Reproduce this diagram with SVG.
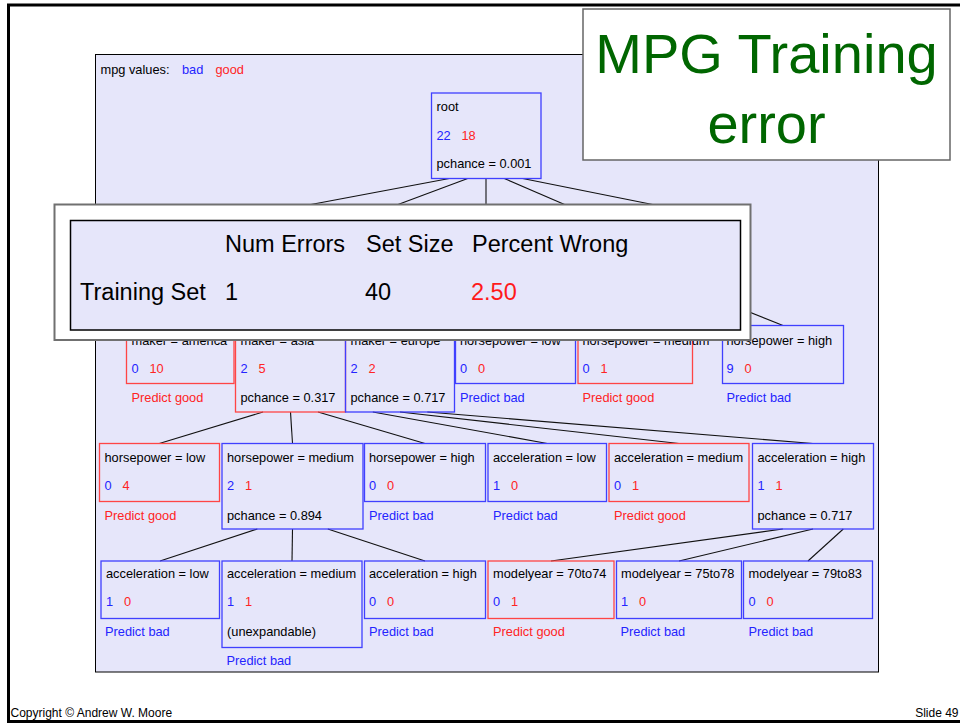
<svg xmlns="http://www.w3.org/2000/svg" width="960" height="723" viewBox="0 0 960 723">
<style>
text{font-family:"Liberation Sans",Arial,sans-serif;}
.t{font-size:12.8px;fill:#000;}
.b{font-size:12.8px;fill:#2424ff;}
.r{font-size:12.8px;fill:#ff2424;}
.nb{fill:none;stroke:#4040ff;stroke-width:1.3;}
.nr{fill:none;stroke:#ff4545;stroke-width:1.3;}
.c line{stroke:#111;stroke-width:1.1;}
.tb{font-size:23.5px;fill:#000;}
.ft{font-size:12px;fill:#000;}
</style>
<rect x="0" y="0" width="960" height="723" fill="#fff"/>
<path d="M962 5 H8.5 V721.5 H962" fill="none" stroke="#000" stroke-width="3"/>
<rect id="panel" x="95.5" y="54.5" width="783" height="617.5" fill="#e6e6fa" stroke="#000" stroke-width="1"/>
<g id="legend">
<text class="t" x="100.5" y="74">mpg values:</text>
<text class="b" x="182" y="74">bad</text>
<text class="r" x="215.5" y="74">good</text>
</g>
<g class="c" id="connectors">
<line x1="449.3" y1="178.5" x2="287" y2="209"/>
<line x1="467.7" y1="178.5" x2="386" y2="209"/>
<line x1="486" y1="178.5" x2="486" y2="209"/>
<line x1="504.3" y1="178.5" x2="575" y2="209"/>
<line x1="522.7" y1="178.5" x2="675" y2="209"/>
<line x1="704" y1="294" x2="783" y2="325.5"/>
<line x1="263" y1="412" x2="159.3" y2="443.5"/>
<line x1="290.5" y1="412" x2="292.5" y2="443.5"/>
<line x1="318" y1="412" x2="425" y2="443.5"/>
<line x1="372.8" y1="412" x2="547.3" y2="443.5"/>
<line x1="400" y1="412" x2="679" y2="443.5"/>
<line x1="427.3" y1="412" x2="813" y2="443.5"/>
<line x1="257.3" y1="529" x2="160" y2="561"/>
<line x1="292.5" y1="529" x2="292" y2="561"/>
<line x1="327.8" y1="529" x2="425" y2="561"/>
<line x1="782.8" y1="529" x2="551" y2="561"/>
<line x1="813" y1="529" x2="679" y2="561"/>
<line x1="843.3" y1="529" x2="808" y2="561"/>
</g>
<g id="root">
<rect class="nb" x="431.5" y="93" width="109.5" height="85.5"/>
<text class="t" x="436.5" y="110.5">root</text>
<text class="b" x="436.5" y="139.5">22</text><text class="r" x="461.5" y="139.5">18</text>
<text class="t" x="436.5" y="168">pchance = 0.001</text>
</g>
<g id="maker-america">
<rect class="nr" x="126.5" y="325.5" width="107.5" height="58"/>
<text class="t" x="131.5" y="344.5">maker = america</text>
<text class="b" x="131.5" y="373">0</text><text class="r" x="149.5" y="373">10</text>
<text class="r" x="131.5" y="401.5">Predict good</text>
</g>
<g id="maker-asia">
<rect class="nr" x="235.5" y="325.5" width="110" height="86.5"/>
<text class="t" x="240.5" y="344.5">maker = asia</text>
<text class="b" x="240.5" y="373">2</text><text class="r" x="258.5" y="373">5</text>
<text class="t" x="240.5" y="401.5">pchance = 0.317</text>
</g>
<g id="maker-europe">
<rect class="nb" x="345.5" y="325.5" width="109" height="86.5"/>
<text class="t" x="350.5" y="344.5">maker = europe</text>
<text class="b" x="350.5" y="373">2</text><text class="r" x="368.5" y="373">2</text>
<text class="t" x="350.5" y="401.5">pchance = 0.717</text>
</g>
<g id="hp-low-1">
<rect class="nb" x="455.5" y="325.5" width="120" height="58"/>
<text class="t" x="460" y="344.5">horsepower = low</text>
<text class="b" x="460" y="373">0</text><text class="r" x="478" y="373">0</text>
<text class="b" x="460" y="401.5">Predict bad</text>
</g>
<g id="hp-medium-1">
<rect class="nr" x="578" y="325.5" width="114.5" height="58"/>
<text class="t" x="582.5" y="344.5">horsepower = medium</text>
<text class="b" x="582.5" y="373">0</text><text class="r" x="600.5" y="373">1</text>
<text class="r" x="582.5" y="401.5">Predict good</text>
</g>
<g id="hp-high-1">
<rect class="nb" x="722.5" y="325.5" width="121" height="58"/>
<text class="t" x="726.5" y="344.5">horsepower = high</text>
<text class="b" x="726.5" y="373">9</text><text class="r" x="744.5" y="373">0</text>
<text class="b" x="726.5" y="401.5">Predict bad</text>
</g>
<g id="hp-low-2">
<rect class="nr" x="99.5" y="443.5" width="120" height="58"/>
<text class="t" x="104.5" y="462">horsepower = low</text>
<text class="b" x="104.5" y="490">0</text><text class="r" x="122.5" y="490">4</text>
<text class="r" x="104.5" y="519.5">Predict good</text>
</g>
<g id="hp-medium-2">
<rect class="nb" x="222" y="443.5" width="141" height="85.5"/>
<text class="t" x="227" y="462">horsepower = medium</text>
<text class="b" x="227" y="490">2</text><text class="r" x="245" y="490">1</text>
<text class="t" x="227" y="519.5">pchance = 0.894</text>
</g>
<g id="hp-high-2">
<rect class="nb" x="364.5" y="443.5" width="121" height="58"/>
<text class="t" x="369" y="462">horsepower = high</text>
<text class="b" x="369" y="490">0</text><text class="r" x="387" y="490">0</text>
<text class="b" x="369" y="519.5">Predict bad</text>
</g>
<g id="acc-low-2">
<rect class="nb" x="488" y="443.5" width="118.5" height="58"/>
<text class="t" x="493" y="462">acceleration = low</text>
<text class="b" x="493" y="490">1</text><text class="r" x="511" y="490">0</text>
<text class="b" x="493" y="519.5">Predict bad</text>
</g>
<g id="acc-medium-2">
<rect class="nr" x="609" y="443.5" width="140" height="58"/>
<text class="t" x="614" y="462">acceleration = medium</text>
<text class="b" x="614" y="490">0</text><text class="r" x="632" y="490">1</text>
<text class="r" x="614" y="519.5">Predict good</text>
</g>
<g id="acc-high-2">
<rect class="nb" x="752.5" y="443.5" width="121" height="85.5"/>
<text class="t" x="757.5" y="462">acceleration = high</text>
<text class="b" x="757.5" y="490">1</text><text class="r" x="775.5" y="490">1</text>
<text class="t" x="757.5" y="519.5">pchance = 0.717</text>
</g>
<g id="acc-low-3">
<rect class="nb" x="101" y="561" width="118.5" height="57.5"/>
<text class="t" x="106" y="578">acceleration = low</text>
<text class="b" x="106" y="606">1</text><text class="r" x="124" y="606">0</text>
<text class="b" x="105" y="635.5">Predict bad</text>
</g>
<g id="acc-medium-3">
<rect class="nb" x="222" y="561" width="140" height="86.5"/>
<text class="t" x="227" y="578">acceleration = medium</text>
<text class="b" x="227" y="606">1</text><text class="r" x="245" y="606">1</text>
<text class="t" x="227" y="635.5">(unexpandable)</text>
<text class="b" x="226.5" y="665">Predict bad</text>
</g>
<g id="acc-high-3">
<rect class="nb" x="364.5" y="561" width="121" height="57.5"/>
<text class="t" x="369" y="578">acceleration = high</text>
<text class="b" x="369" y="606">0</text><text class="r" x="387" y="606">0</text>
<text class="b" x="369" y="635.5">Predict bad</text>
</g>
<g id="my-70to74">
<rect class="nr" x="488" y="561" width="126" height="57.5"/>
<text class="t" x="493" y="578">modelyear = 70to74</text>
<text class="b" x="493" y="606">0</text><text class="r" x="511" y="606">1</text>
<text class="r" x="493" y="635.5">Predict good</text>
</g>
<g id="my-75to78">
<rect class="nb" x="616.5" y="561" width="125" height="57.5"/>
<text class="t" x="621" y="578">modelyear = 75to78</text>
<text class="b" x="621" y="606">1</text><text class="r" x="639" y="606">0</text>
<text class="b" x="620.5" y="635.5">Predict bad</text>
</g>
<g id="my-79to83">
<rect class="nb" x="743.5" y="561" width="129" height="57.5"/>
<text class="t" x="748.5" y="578">modelyear = 79to83</text>
<text class="b" x="748.5" y="606">0</text><text class="r" x="766.5" y="606">0</text>
<text class="b" x="748.5" y="635.5">Predict bad</text>
</g>
<g id="error-table">
<rect x="54.5" y="204.5" width="696" height="135.5" fill="#fff" stroke="#707070" stroke-width="2"/>
<rect x="70.5" y="220.5" width="670" height="109.5" fill="#e6e6fa" stroke="#000" stroke-width="1.5"/>
<text class="tb" x="225" y="252">Num Errors</text>
<text class="tb" x="366" y="252">Set Size</text>
<text class="tb" x="472" y="252">Percent Wrong</text>
<text class="tb" x="80" y="299.5">Training Set</text>
<text class="tb" x="225" y="299.5">1</text>
<text class="tb" x="365" y="299.5">40</text>
<text class="tb" x="471" y="299.5" fill="#ff1a1a" style="fill:#ff1a1a">2.50</text>
</g>
<g id="title">
<rect x="583" y="9" width="367" height="151" fill="#fff" stroke="#666" stroke-width="1.5"/>
<text x="766.5" y="73" text-anchor="middle" font-size="56" fill="#006600">MPG Training</text>
<text x="766.5" y="143" text-anchor="middle" font-size="56" fill="#006600">error</text>
</g>
<text class="ft" x="10.5" y="717">Copyright © Andrew W. Moore</text>
<text class="ft" x="958.5" y="717" text-anchor="end">Slide 49</text>
</svg>
